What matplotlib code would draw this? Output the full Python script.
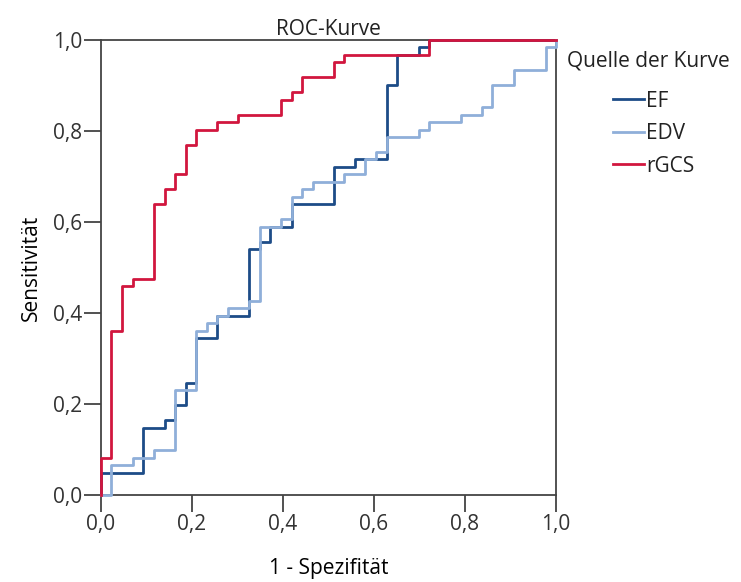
import numpy as np
import matplotlib
matplotlib.use('Agg')
import matplotlib.pyplot as plt
from matplotlib.ticker import FuncFormatter

# ROC step curves: breakpoints on x (1 - specificity) and sensitivity from there on
ef_fpr = [0, 0, 0.093, 0.140, 0.163, 0.186, 0.209, 0.256, 0.326, 0.349, 0.372, 0.419,
          0.512, 0.558, 0.628, 0.651, 0.698, 0.721, 1.0]
ef_tpr = [0, 0.049, 0.148, 0.164, 0.197, 0.246, 0.344, 0.393, 0.541, 0.557, 0.590, 0.639,
          0.721, 0.738, 0.902, 0.967, 0.984, 1.0, 1.0]

edv_fpr = [0, 0.023, 0.070, 0.116, 0.163, 0.209, 0.233, 0.256, 0.279, 0.326, 0.349, 0.395,
           0.419, 0.442, 0.465, 0.535, 0.581, 0.605, 0.628, 0.698, 0.721, 0.791, 0.837,
           0.860, 0.907, 0.977, 1.0]
edv_tpr = [0, 0.066, 0.082, 0.098, 0.230, 0.361, 0.377, 0.393, 0.410, 0.426, 0.590, 0.607,
           0.656, 0.672, 0.689, 0.705, 0.738, 0.754, 0.787, 0.803, 0.820, 0.836, 0.852,
           0.902, 0.934, 0.984, 1.0]

rgcs_fpr = [0, 0, 0.023, 0.047, 0.070, 0.116, 0.140, 0.163, 0.186, 0.209, 0.256, 0.302,
            0.395, 0.419, 0.442, 0.512, 0.535, 0.721, 1.0]
rgcs_tpr = [0, 0.082, 0.361, 0.459, 0.475, 0.639, 0.672, 0.705, 0.770, 0.803, 0.820, 0.836,
            0.869, 0.885, 0.918, 0.951, 0.967, 1.0, 1.0]

ticks = [0, 0.2, 0.4, 0.6, 0.8, 1.0]

plt.rcParams['font.family'] = ['Open Sans', 'DejaVu Sans']
plt.rcParams['font.size'] = 15
plt.rcParams['text.color'] = '#222222'

fig = plt.figure(figsize = (7.41, 5.82), dpi = 100)
ax = fig.add_axes([101 / 741, 87 / 582, 455 / 741, 455 / 582])

ax.step(ef_fpr, ef_tpr, where = 'post', color = '#1d4c87', lw = 2, label = 'EF', clip_on = False, zorder = 3)
ax.step(edv_fpr, edv_tpr, where = 'post', color = '#8fafd9', lw = 2, label = 'EDV', clip_on = False, zorder = 3)
ax.step(rgcs_fpr, rgcs_tpr, where = 'post', color = '#d1163e', lw = 2, label = 'rGCS', clip_on = False, zorder = 4)

ax.set_xlim(0, 1)
ax.set_ylim(0, 1)
ax.set_xticks(ticks)
ax.set_yticks(ticks)
fmt = FuncFormatter(lambda v, p: ('%.1f' % v).replace('.', ','))
ax.xaxis.set_major_formatter(fmt)
ax.yaxis.set_major_formatter(fmt)
ax.tick_params(direction = 'out', length = 12.5, width = 1.2, colors = '#333333', labelsize = 15, pad = 1)
for s in ax.spines.values():
    s.set_color('#444444')
    s.set_linewidth(1.3)

ax.set_title('ROC-Kurve', fontsize = 15, pad = 3)
ax.set_xlabel('1 - Spezifität', fontsize = 15, labelpad = 17)
ax.set_ylabel('Sensitivität', fontsize = 15, labelpad = 8)

fig.text(567 / 741, 1 - 61 / 582, 'Quelle der Kurve', fontsize = 15, va = 'center', ha = 'left')
ax.legend(loc = 'upper left', bbox_to_anchor = (594 / 741, 1 - 72 / 582), bbox_transform = fig.transFigure,
          frameon = False, handlelength = 1.5, handletextpad = 0.1, labelspacing = 0.55, fontsize = 15)

fig.savefig('out.png', dpi = 100)
